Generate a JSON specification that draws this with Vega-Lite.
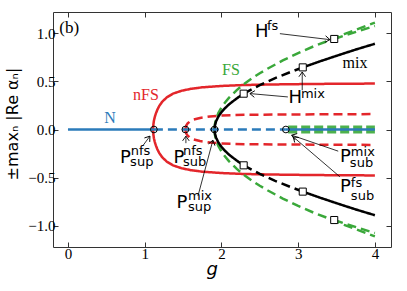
{
  "$schema": "https://vega.github.io/schema/vega-lite/v6.json",
  "width": 338,
  "height": 235,
  "autosize": {"type": "none"},
  "padding": {"left": 53, "top": 12, "right": 16, "bottom": 44},
  "config": {
    "view": {"stroke": "#333333", "strokeWidth": 1},
    "axis": {"grid": false, "domain": false, "tickColor": "#333333", "tickSize": -5, "tickWidth": 1,
      "labelFont": "Liberation Serif", "labelFontSize": 15, "labelColor": "#000000",
      "titleFont": "DejaVu Sans", "titleFontWeight": "normal", "titleColor": "#000000"}
  },
  "datasets": {
    "curves": [
      {"g": 0, "y": 0, "branch": "N", "stab": "stable", "seg": "b1"},
      {"g": 1.12, "y": 0, "branch": "N", "stab": "stable", "seg": "b1"},
      {"g": 1.12, "y": 0, "branch": "N", "stab": "unstable", "seg": "b2"},
      {"g": 2.84, "y": 0, "branch": "N", "stab": "unstable", "seg": "b2"},
      {"g": 2.84, "y": 0, "branch": "N", "stab": "stable", "seg": "b3"},
      {"g": 4.0, "y": 0, "branch": "N", "stab": "stable", "seg": "b3"},

      {"g": 1.11, "y": 0, "branch": "nFS", "stab": "stable", "seg": "r1"},
      {"g": 1.113, "y": 0.05, "branch": "nFS", "stab": "stable", "seg": "r1"},
      {"g": 1.12, "y": 0.09, "branch": "nFS", "stab": "stable", "seg": "r1"},
      {"g": 1.13, "y": 0.125, "branch": "nFS", "stab": "stable", "seg": "r1"},
      {"g": 1.145, "y": 0.165, "branch": "nFS", "stab": "stable", "seg": "r1"},
      {"g": 1.165, "y": 0.205, "branch": "nFS", "stab": "stable", "seg": "r1"},
      {"g": 1.19, "y": 0.245, "branch": "nFS", "stab": "stable", "seg": "r1"},
      {"g": 1.23, "y": 0.29, "branch": "nFS", "stab": "stable", "seg": "r1"},
      {"g": 1.29, "y": 0.335, "branch": "nFS", "stab": "stable", "seg": "r1"},
      {"g": 1.37, "y": 0.373, "branch": "nFS", "stab": "stable", "seg": "r1"},
      {"g": 1.48, "y": 0.402, "branch": "nFS", "stab": "stable", "seg": "r1"},
      {"g": 1.6, "y": 0.422, "branch": "nFS", "stab": "stable", "seg": "r1"},
      {"g": 1.75, "y": 0.438, "branch": "nFS", "stab": "stable", "seg": "r1"},
      {"g": 2.0, "y": 0.452, "branch": "nFS", "stab": "stable", "seg": "r1"},
      {"g": 2.3, "y": 0.462, "branch": "nFS", "stab": "stable", "seg": "r1"},
      {"g": 2.7, "y": 0.468, "branch": "nFS", "stab": "stable", "seg": "r1"},
      {"g": 3.2, "y": 0.473, "branch": "nFS", "stab": "stable", "seg": "r1"},
      {"g": 3.6, "y": 0.475, "branch": "nFS", "stab": "stable", "seg": "r1"},
      {"g": 4.0, "y": 0.477, "branch": "nFS", "stab": "stable", "seg": "r1"},

      {"g": 1.11, "y": 0, "branch": "nFS", "stab": "stable", "seg": "r2"},
      {"g": 1.113, "y": -0.05, "branch": "nFS", "stab": "stable", "seg": "r2"},
      {"g": 1.12, "y": -0.09, "branch": "nFS", "stab": "stable", "seg": "r2"},
      {"g": 1.13, "y": -0.125, "branch": "nFS", "stab": "stable", "seg": "r2"},
      {"g": 1.145, "y": -0.165, "branch": "nFS", "stab": "stable", "seg": "r2"},
      {"g": 1.165, "y": -0.205, "branch": "nFS", "stab": "stable", "seg": "r2"},
      {"g": 1.19, "y": -0.245, "branch": "nFS", "stab": "stable", "seg": "r2"},
      {"g": 1.23, "y": -0.29, "branch": "nFS", "stab": "stable", "seg": "r2"},
      {"g": 1.29, "y": -0.335, "branch": "nFS", "stab": "stable", "seg": "r2"},
      {"g": 1.37, "y": -0.373, "branch": "nFS", "stab": "stable", "seg": "r2"},
      {"g": 1.48, "y": -0.402, "branch": "nFS", "stab": "stable", "seg": "r2"},
      {"g": 1.6, "y": -0.422, "branch": "nFS", "stab": "stable", "seg": "r2"},
      {"g": 1.75, "y": -0.438, "branch": "nFS", "stab": "stable", "seg": "r2"},
      {"g": 2.0, "y": -0.452, "branch": "nFS", "stab": "stable", "seg": "r2"},
      {"g": 2.3, "y": -0.462, "branch": "nFS", "stab": "stable", "seg": "r2"},
      {"g": 2.7, "y": -0.468, "branch": "nFS", "stab": "stable", "seg": "r2"},
      {"g": 3.2, "y": -0.473, "branch": "nFS", "stab": "stable", "seg": "r2"},
      {"g": 3.6, "y": -0.475, "branch": "nFS", "stab": "stable", "seg": "r2"},
      {"g": 4.0, "y": -0.477, "branch": "nFS", "stab": "stable", "seg": "r2"},

      {"g": 1.53, "y": 0, "branch": "nFS", "stab": "unstable", "seg": "r3"},
      {"g": 1.535, "y": 0.025, "branch": "nFS", "stab": "unstable", "seg": "r3"},
      {"g": 1.545, "y": 0.045, "branch": "nFS", "stab": "unstable", "seg": "r3"},
      {"g": 1.56, "y": 0.063, "branch": "nFS", "stab": "unstable", "seg": "r3"},
      {"g": 1.59, "y": 0.085, "branch": "nFS", "stab": "unstable", "seg": "r3"},
      {"g": 1.64, "y": 0.104, "branch": "nFS", "stab": "unstable", "seg": "r3"},
      {"g": 1.72, "y": 0.12, "branch": "nFS", "stab": "unstable", "seg": "r3"},
      {"g": 1.85, "y": 0.135, "branch": "nFS", "stab": "unstable", "seg": "r3"},
      {"g": 2.0, "y": 0.145, "branch": "nFS", "stab": "unstable", "seg": "r3"},
      {"g": 2.3, "y": 0.152, "branch": "nFS", "stab": "unstable", "seg": "r3"},
      {"g": 2.8, "y": 0.156, "branch": "nFS", "stab": "unstable", "seg": "r3"},
      {"g": 3.4, "y": 0.158, "branch": "nFS", "stab": "unstable", "seg": "r3"},
      {"g": 4.0, "y": 0.16, "branch": "nFS", "stab": "unstable", "seg": "r3"},

      {"g": 1.53, "y": 0, "branch": "nFS", "stab": "unstable", "seg": "r4"},
      {"g": 1.535, "y": -0.025, "branch": "nFS", "stab": "unstable", "seg": "r4"},
      {"g": 1.545, "y": -0.045, "branch": "nFS", "stab": "unstable", "seg": "r4"},
      {"g": 1.56, "y": -0.063, "branch": "nFS", "stab": "unstable", "seg": "r4"},
      {"g": 1.59, "y": -0.085, "branch": "nFS", "stab": "unstable", "seg": "r4"},
      {"g": 1.64, "y": -0.104, "branch": "nFS", "stab": "unstable", "seg": "r4"},
      {"g": 1.72, "y": -0.12, "branch": "nFS", "stab": "unstable", "seg": "r4"},
      {"g": 1.85, "y": -0.135, "branch": "nFS", "stab": "unstable", "seg": "r4"},
      {"g": 2.0, "y": -0.145, "branch": "nFS", "stab": "unstable", "seg": "r4"},
      {"g": 2.3, "y": -0.152, "branch": "nFS", "stab": "unstable", "seg": "r4"},
      {"g": 2.8, "y": -0.156, "branch": "nFS", "stab": "unstable", "seg": "r4"},
      {"g": 3.4, "y": -0.158, "branch": "nFS", "stab": "unstable", "seg": "r4"},
      {"g": 4.0, "y": -0.16, "branch": "nFS", "stab": "unstable", "seg": "r4"},

      {"g": 1.91, "y": 0, "branch": "FS", "stab": "unstable", "seg": "f1"},
      {"g": 1.915, "y": 0.054, "branch": "FS", "stab": "unstable", "seg": "f1"},
      {"g": 1.93, "y": 0.107, "branch": "FS", "stab": "unstable", "seg": "f1"},
      {"g": 1.96, "y": 0.17, "branch": "FS", "stab": "unstable", "seg": "f1"},
      {"g": 2.0, "y": 0.228, "branch": "FS", "stab": "unstable", "seg": "f1"},
      {"g": 2.05, "y": 0.284, "branch": "FS", "stab": "unstable", "seg": "f1"},
      {"g": 2.1, "y": 0.331, "branch": "FS", "stab": "unstable", "seg": "f1"},
      {"g": 2.2, "y": 0.409, "branch": "FS", "stab": "unstable", "seg": "f1"},
      {"g": 2.3, "y": 0.475, "branch": "FS", "stab": "unstable", "seg": "f1"},
      {"g": 2.4, "y": 0.532, "branch": "FS", "stab": "unstable", "seg": "f1"},
      {"g": 2.5, "y": 0.584, "branch": "FS", "stab": "unstable", "seg": "f1"},
      {"g": 2.6, "y": 0.631, "branch": "FS", "stab": "unstable", "seg": "f1"},
      {"g": 2.8, "y": 0.717, "branch": "FS", "stab": "unstable", "seg": "f1"},
      {"g": 3.0, "y": 0.793, "branch": "FS", "stab": "unstable", "seg": "f1"},
      {"g": 3.2, "y": 0.863, "branch": "FS", "stab": "unstable", "seg": "f1"},
      {"g": 3.47, "y": 0.945, "branch": "FS", "stab": "unstable", "seg": "f1"},
      {"g": 3.6, "y": 0.99, "branch": "FS", "stab": "unstable", "seg": "f1"},
      {"g": 3.8, "y": 1.05, "branch": "FS", "stab": "unstable", "seg": "f1"},
      {"g": 4.0, "y": 1.11, "branch": "FS", "stab": "unstable", "seg": "f1"},

      {"g": 1.91, "y": 0, "branch": "FS", "stab": "unstable", "seg": "f2"},
      {"g": 1.915, "y": -0.054, "branch": "FS", "stab": "unstable", "seg": "f2"},
      {"g": 1.93, "y": -0.107, "branch": "FS", "stab": "unstable", "seg": "f2"},
      {"g": 1.96, "y": -0.17, "branch": "FS", "stab": "unstable", "seg": "f2"},
      {"g": 2.0, "y": -0.228, "branch": "FS", "stab": "unstable", "seg": "f2"},
      {"g": 2.05, "y": -0.284, "branch": "FS", "stab": "unstable", "seg": "f2"},
      {"g": 2.1, "y": -0.331, "branch": "FS", "stab": "unstable", "seg": "f2"},
      {"g": 2.2, "y": -0.409, "branch": "FS", "stab": "unstable", "seg": "f2"},
      {"g": 2.3, "y": -0.475, "branch": "FS", "stab": "unstable", "seg": "f2"},
      {"g": 2.4, "y": -0.532, "branch": "FS", "stab": "unstable", "seg": "f2"},
      {"g": 2.5, "y": -0.584, "branch": "FS", "stab": "unstable", "seg": "f2"},
      {"g": 2.6, "y": -0.631, "branch": "FS", "stab": "unstable", "seg": "f2"},
      {"g": 2.8, "y": -0.717, "branch": "FS", "stab": "unstable", "seg": "f2"},
      {"g": 3.0, "y": -0.793, "branch": "FS", "stab": "unstable", "seg": "f2"},
      {"g": 3.2, "y": -0.863, "branch": "FS", "stab": "unstable", "seg": "f2"},
      {"g": 3.47, "y": -0.945, "branch": "FS", "stab": "unstable", "seg": "f2"},
      {"g": 3.6, "y": -0.99, "branch": "FS", "stab": "unstable", "seg": "f2"},
      {"g": 3.8, "y": -1.05, "branch": "FS", "stab": "unstable", "seg": "f2"},
      {"g": 4.0, "y": -1.11, "branch": "FS", "stab": "unstable", "seg": "f2"},

      {"g": 3.47, "y": 0.94, "branch": "FS", "stab": "unstable", "seg": "f3"},
      {"g": 3.6, "y": 0.975, "branch": "FS", "stab": "unstable", "seg": "f3"},
      {"g": 3.8, "y": 1.025, "branch": "FS", "stab": "unstable", "seg": "f3"},
      {"g": 4.0, "y": 1.075, "branch": "FS", "stab": "unstable", "seg": "f3"},
      {"g": 3.47, "y": -0.94, "branch": "FS", "stab": "unstable", "seg": "f4"},
      {"g": 3.6, "y": -0.975, "branch": "FS", "stab": "unstable", "seg": "f4"},
      {"g": 3.8, "y": -1.025, "branch": "FS", "stab": "unstable", "seg": "f4"},
      {"g": 4.0, "y": -1.075, "branch": "FS", "stab": "unstable", "seg": "f4"},

      {"g": 1.91, "y": 0, "branch": "mix", "stab": "stable", "seg": "m1"},
      {"g": 1.915, "y": 0.042, "branch": "mix", "stab": "stable", "seg": "m1"},
      {"g": 1.93, "y": 0.085, "branch": "mix", "stab": "stable", "seg": "m1"},
      {"g": 1.96, "y": 0.134, "branch": "mix", "stab": "stable", "seg": "m1"},
      {"g": 2.0, "y": 0.18, "branch": "mix", "stab": "stable", "seg": "m1"},
      {"g": 2.05, "y": 0.224, "branch": "mix", "stab": "stable", "seg": "m1"},
      {"g": 2.1, "y": 0.262, "branch": "mix", "stab": "stable", "seg": "m1"},
      {"g": 2.2, "y": 0.323, "branch": "mix", "stab": "stable", "seg": "m1"},
      {"g": 2.29, "y": 0.372, "branch": "mix", "stab": "stable", "seg": "m1"},
      {"g": 2.29, "y": 0.372, "branch": "mix", "stab": "unstable", "seg": "m2"},
      {"g": 2.5, "y": 0.461, "branch": "mix", "stab": "unstable", "seg": "m2"},
      {"g": 2.7, "y": 0.533, "branch": "mix", "stab": "unstable", "seg": "m2"},
      {"g": 2.9, "y": 0.597, "branch": "mix", "stab": "unstable", "seg": "m2"},
      {"g": 3.06, "y": 0.645, "branch": "mix", "stab": "unstable", "seg": "m2"},
      {"g": 3.06, "y": 0.645, "branch": "mix", "stab": "stable", "seg": "m3"},
      {"g": 3.3, "y": 0.712, "branch": "mix", "stab": "stable", "seg": "m3"},
      {"g": 3.5, "y": 0.765, "branch": "mix", "stab": "stable", "seg": "m3"},
      {"g": 3.75, "y": 0.83, "branch": "mix", "stab": "stable", "seg": "m3"},
      {"g": 4.0, "y": 0.89, "branch": "mix", "stab": "stable", "seg": "m3"},

      {"g": 1.91, "y": 0, "branch": "mix", "stab": "stable", "seg": "m4"},
      {"g": 1.915, "y": -0.042, "branch": "mix", "stab": "stable", "seg": "m4"},
      {"g": 1.93, "y": -0.085, "branch": "mix", "stab": "stable", "seg": "m4"},
      {"g": 1.96, "y": -0.134, "branch": "mix", "stab": "stable", "seg": "m4"},
      {"g": 2.0, "y": -0.18, "branch": "mix", "stab": "stable", "seg": "m4"},
      {"g": 2.05, "y": -0.224, "branch": "mix", "stab": "stable", "seg": "m4"},
      {"g": 2.1, "y": -0.262, "branch": "mix", "stab": "stable", "seg": "m4"},
      {"g": 2.2, "y": -0.323, "branch": "mix", "stab": "stable", "seg": "m4"},
      {"g": 2.29, "y": -0.372, "branch": "mix", "stab": "stable", "seg": "m4"},
      {"g": 2.29, "y": -0.372, "branch": "mix", "stab": "unstable", "seg": "m5"},
      {"g": 2.5, "y": -0.461, "branch": "mix", "stab": "unstable", "seg": "m5"},
      {"g": 2.7, "y": -0.533, "branch": "mix", "stab": "unstable", "seg": "m5"},
      {"g": 2.9, "y": -0.597, "branch": "mix", "stab": "unstable", "seg": "m5"},
      {"g": 3.06, "y": -0.645, "branch": "mix", "stab": "unstable", "seg": "m5"},
      {"g": 3.06, "y": -0.645, "branch": "mix", "stab": "stable", "seg": "m6"},
      {"g": 3.3, "y": -0.712, "branch": "mix", "stab": "stable", "seg": "m6"},
      {"g": 3.5, "y": -0.765, "branch": "mix", "stab": "stable", "seg": "m6"},
      {"g": 3.75, "y": -0.83, "branch": "mix", "stab": "stable", "seg": "m6"},
      {"g": 4.0, "y": -0.89, "branch": "mix", "stab": "stable", "seg": "m6"}
    ],
    "band": [
      {"g": 2.87, "y": 0, "branch": "FS"},
      {"g": 4.0, "y": 0, "branch": "FS"}
    ],
    "circles": [
      {"g": 1.12, "y": 0}, {"g": 1.53, "y": 0}, {"g": 1.91, "y": 0}, {"g": 2.84, "y": 0}
    ],
    "squares": [
      {"g": 2.29, "y": 0.372}, {"g": 2.29, "y": -0.372},
      {"g": 3.06, "y": 0.645}, {"g": 3.06, "y": -0.645},
      {"g": 3.47, "y": 0.94}, {"g": 3.47, "y": -0.94}
    ],
    "arrows": [
      {"g": 0.981, "y": -0.163, "g2": 1.068, "y2": -0.069, "dir": 306.7},
      {"g": 1.537, "y": -0.142, "g2": 1.537, "y2": -0.069, "dir": 270},
      {"g": 1.694, "y": -0.691, "g2": 1.889, "y2": -0.111, "dir": 285},
      {"g": 2.866, "y": 0.338, "g2": 2.371, "y2": 0.373, "dir": 185.1},
      {"g": 3.053, "y": 0.407, "g2": 3.053, "y2": 0.597, "dir": 270},
      {"g": 2.762, "y": 0.995, "g2": 3.414, "y2": 0.933, "dir": 6.8},
      {"g": 3.522, "y": -0.225, "g2": 2.915, "y2": -0.059, "dir": 198.9},
      {"g": 3.544, "y": -0.491, "g2": 2.936, "y2": -0.077, "dir": 220.6}
    ],
    "big": [
      {"g": 0.677, "y": -0.349, "t": "P"},
      {"g": 1.374, "y": -0.349, "t": "P"},
      {"g": 1.413, "y": -0.816, "t": "P"},
      {"g": 2.438, "y": 0.96, "t": "H"},
      {"g": 2.873, "y": 0.273, "t": "H"},
      {"g": 3.546, "y": -0.336, "t": "P"},
      {"g": 3.546, "y": -0.647, "t": "P"}
    ],
    "small": [
      {"g": 0.817, "y": -0.266, "t": "nfs"},
      {"g": 0.81, "y": -0.38, "t": "sup"},
      {"g": 1.498, "y": -0.266, "t": "nfs"},
      {"g": 1.498, "y": -0.38, "t": "sub"},
      {"g": 1.564, "y": -0.733, "t": "mix"},
      {"g": 1.564, "y": -0.847, "t": "sup"},
      {"g": 2.593, "y": 1.035, "t": "fs"},
      {"g": 3.036, "y": 0.33, "t": "mix"},
      {"g": 3.687, "y": -0.277, "t": "mix"},
      {"g": 3.674, "y": -0.388, "t": "sub"},
      {"g": 3.687, "y": -0.598, "t": "fs"},
      {"g": 3.687, "y": -0.733, "t": "sub"}
    ],
    "names": [
      {"g": 0.547, "y": 0.065, "t": "N", "branch": "N"},
      {"g": 1.016, "y": 0.304, "t": "nFS", "branch": "nFS"},
      {"g": 2.124, "y": 0.563, "t": "FS", "branch": "FS"},
      {"g": 3.74, "y": 0.635, "t": "mix", "branch": "mix"}
    ],
    "panel": [
      {"g": -0.114, "y": 1.0, "t": "(b)"}
    ]
  },
  "encoding": {
    "x": {"field": "g", "type": "quantitative", "scale": {"domain": [-0.195, 4.21], "nice": false, "zero": false}, "axis": null},
    "y": {"field": "y", "type": "quantitative", "scale": {"domain": [-1.22, 1.22], "nice": false, "zero": false}, "axis": null}
  },
  "layer": [
    {
      "data": {"name": "band"},
      "mark": {"type": "line", "strokeWidth": 8, "strokeDash": [9, 4], "opacity": 0.9},
      "encoding": {
        "color": {"field": "branch", "type": "nominal", "legend": null,
          "scale": {"domain": ["N", "nFS", "FS", "mix"], "range": ["#2b7bba", "#e3262b", "#3aa83a", "#000000"]}}
      }
    },
    {
      "data": {"name": "curves"},
      "transform": [{"filter": {"field": "branch", "equal": "nFS"}}],
      "mark": {"type": "line", "strokeWidth": 2.5},
      "encoding": {
        "x": {"field": "g", "type": "quantitative", "scale": {"domain": [-0.195, 4.21], "nice": false, "zero": false},
          "axis": {"orient": "bottom", "values": [0, 1, 2, 3, 4], "format": "d", "labelPadding": 4,
            "title": "g", "titleFontStyle": "italic", "titleFontSize": 18, "titleX": 158.7, "titleY": 27,
            "titleBaseline": "alphabetic", "titleAlign": "center"}},
        "y": {"field": "y", "type": "quantitative", "scale": {"domain": [-1.22, 1.22], "nice": false, "zero": false},
          "axis": {"orient": "left", "values": [-1, -0.5, 0, 0.5, 1], "format": ".1f", "labelPadding": 3,
            "title": "±maxₙ |Re αₙ|", "titleFontSize": 16, "titleAngle": 270, "titleX": -36, "titleY": 111.5,
            "titleBaseline": "alphabetic", "titleAlign": "center"}},
        "color": {"field": "branch", "type": "nominal", "legend": null},
        "strokeDash": {"field": "stab", "type": "nominal", "legend": null,
          "scale": {"domain": ["stable", "unstable"], "range": [[1, 0], [9, 5]]}},
        "detail": {"field": "seg"}
      }
    },
    {
      "data": {"name": "curves"},
      "transform": [{"filter": {"field": "branch", "equal": "FS"}}],
      "mark": {"type": "line", "strokeWidth": 2.5},
      "encoding": {
        "color": {"field": "branch", "type": "nominal", "legend": null},
        "strokeDash": {"field": "stab", "type": "nominal", "legend": null},
        "detail": {"field": "seg"}
      }
    },
    {
      "data": {"name": "curves"},
      "transform": [{"filter": {"field": "branch", "equal": "mix"}}],
      "mark": {"type": "line", "strokeWidth": 2.5},
      "encoding": {
        "color": {"field": "branch", "type": "nominal", "legend": null},
        "strokeDash": {"field": "stab", "type": "nominal", "legend": null},
        "detail": {"field": "seg"}
      }
    },
    {
      "data": {"name": "curves"},
      "transform": [{"filter": {"field": "branch", "equal": "N"}}],
      "mark": {"type": "line", "strokeWidth": 2.5},
      "encoding": {
        "color": {"field": "branch", "type": "nominal", "legend": null},
        "strokeDash": {"field": "stab", "type": "nominal", "legend": null},
        "detail": {"field": "seg"}
      }
    },
    {
      "data": {"name": "circles"},
      "mark": {"type": "point", "shape": "circle", "size": 45, "filled": false, "stroke": "#000000", "strokeWidth": 1, "opacity": 1},
      "encoding": {
        "x": {"field": "g", "type": "quantitative", "scale": {"domain": [-0.195, 4.21], "nice": false, "zero": false},
          "axis": {"orient": "top", "values": [0, 1, 2, 3, 4], "labels": false, "title": null}},
        "y": {"field": "y", "type": "quantitative", "scale": {"domain": [-1.22, 1.22], "nice": false, "zero": false},
          "axis": {"orient": "right", "values": [-1, -0.5, 0, 0.5, 1], "labels": false, "title": null}}
      }
    },
    {
      "data": {"name": "squares"},
      "mark": {"type": "point", "shape": "square", "size": 50, "filled": true, "fill": "#ffffff", "stroke": "#000000", "strokeWidth": 1, "opacity": 1}
    },
    {
      "data": {"name": "arrows"},
      "mark": {"type": "rule", "color": "#000000", "strokeWidth": 0.8},
      "encoding": {
        "x2": {"field": "g2"},
        "y2": {"field": "y2"}
      }
    },
    {
      "data": {"name": "arrows"},
      "mark": {"type": "point", "shape": "M-1,-0.7L0,0L-1,0.7", "size": 90, "filled": false, "stroke": "#000000", "strokeWidth": 0.9, "opacity": 1},
      "encoding": {
        "x": {"field": "g2", "type": "quantitative"},
        "y": {"field": "y2", "type": "quantitative"},
        "angle": {"field": "dir", "type": "quantitative", "scale": null}
      }
    },
    {
      "data": {"name": "big"},
      "mark": {"type": "text", "font": "DejaVu Sans", "fontSize": 18, "align": "left", "baseline": "alphabetic", "color": "#000000"},
      "encoding": {"text": {"field": "t"}}
    },
    {
      "data": {"name": "small"},
      "mark": {"type": "text", "font": "DejaVu Sans", "fontSize": 13, "align": "left", "baseline": "alphabetic", "color": "#000000"},
      "encoding": {"text": {"field": "t"}}
    },
    {
      "data": {"name": "names"},
      "mark": {"type": "text", "font": "Liberation Serif", "fontSize": 16, "align": "center", "baseline": "alphabetic"},
      "encoding": {
        "text": {"field": "t"},
        "color": {"field": "branch", "type": "nominal", "legend": null}
      }
    },
    {
      "data": {"name": "panel"},
      "mark": {"type": "text", "font": "Liberation Serif", "fontSize": 17, "align": "left", "baseline": "alphabetic", "color": "#000000"},
      "encoding": {"text": {"field": "t"}}
    }
  ],
  "resolve": {"axis": {"x": "independent", "y": "independent"}}
}
